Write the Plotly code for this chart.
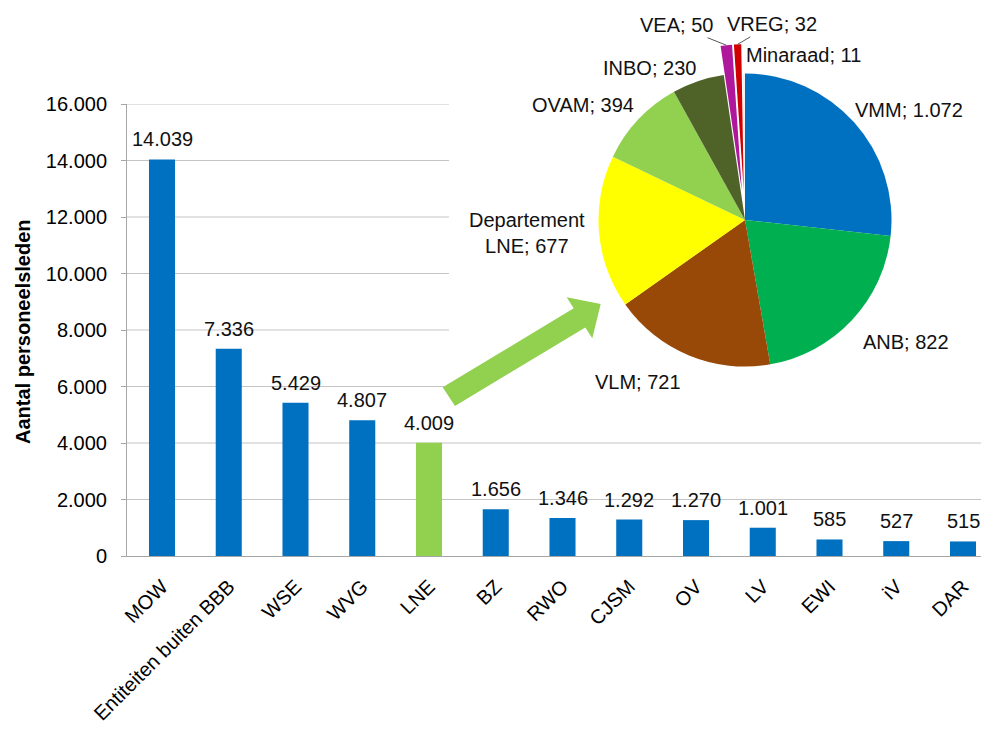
import math
import plotly.graph_objects as go

# ---------------- data ----------------
categories = ["MOW", "Entiteiten buiten BBB", "WSE", "WVG", "LNE", "BZ", "RWO",
              "CJSM", "OV", "LV", "EWI", "iV", "DAR"]
personnel = [14039, 7336, 5429, 4807, 4009, 1656, 1346, 1292, 1270, 1001, 585, 527, 515]
highlight_category = "LNE"

pie_labels = ["VMM", "ANB", "VLM", "Departement<br>LNE", "OVAM", "INBO", "VEA", "VREG", "Minaraad"]
pie_values = [1072, 822, 721, 677, 394, 230, 50, 32, 11]

y_ticks = [0, 2000, 4000, 6000, 8000, 10000, 12000, 14000, 16000]

# ---------------- style ----------------
W, H = 981, 730
FONT = "Liberation Sans, Arial, sans-serif"
BLUE = "#0070C0"
LGREEN = "#92D050"
GRID = "#C4C4C4"
pie_colors = ["#0070C0", "#00B050", "#984807", "#FFFF00", "#92D050", "#4F6228",
              "#B0189C", "#D00000", "#F2F2F2"]
pie_pull = [0, 0, 0, 0, 0, 0, 0.2, 0.2, 0]
# label placement style per slice: (xanchor, yanchor, radius factor) or arrow offsets
pie_label_style = [("left", "bottom", 0.99), ("left", "top", 1.09), ("right", "top", 1.10),
                   ("right", "middle", 1.08), ("right", "bottom", 1.02), ("right", "bottom", 1.0),
                   ("arrow", -50, -20), ("arrow", 34, -20), ("left", "bottom", 1.04)]

# plot area geometry (pixels)
PL, PR, PT, PB = 127, 981, 104, 556
CAT_STEP = 66.75
FIRST_CENTER = 162
PIE_CX, PIE_CY, PIE_R = 745, 220, 146.5
PIE_BOX_LEFT, PIE_BOX_BOTTOM = 449, 418   # white background of the embedded pie


def fmt(v):
    return f"{v:,}".replace(",", ".")


def px(x):
    return x / W


def py(y):
    return 1 - y / H


x_lo = -(FIRST_CENTER - PL) / CAT_STEP
x_hi = x_lo + (PR - PL) / CAT_STEP

fig = go.Figure()

bar_colors = [LGREEN if c == highlight_category else BLUE for c in categories]
fig.add_trace(go.Bar(x=categories, y=personnel, marker=dict(color=bar_colors, line=dict(width=0)),
                     width=0.39, hoverinfo="skip", showlegend=False))

max_pull = max(pie_pull)
half = PIE_R * (1 + max_pull)
fig.add_trace(go.Pie(labels=pie_labels, values=pie_values, sort=False, direction="clockwise",
                     rotation=0, pull=pie_pull, textinfo="none", hoverinfo="skip",
                     marker=dict(colors=pie_colors, line=dict(width=0)), showlegend=False,
                     domain=dict(x=[px(PIE_CX - half), px(PIE_CX + half)],
                                 y=[py(PIE_CY + half), py(PIE_CY - half)])))

annotations = []
# bar value labels
for c, v in zip(categories, personnel):
    annotations.append(dict(x=c, y=v, xref="x", yref="y", text=fmt(v), showarrow=False,
                            xanchor="center", yanchor="bottom", yshift=7,
                            font=dict(size=20, color="#111111", family=FONT)))

# pie labels from slice angles
total = sum(pie_values)
cum = 0
for lab, v, pull, st in zip(pie_labels, pie_values, pie_pull, pie_label_style):
    mid = (cum + v / 2) / total * 2 * math.pi
    cum += v
    s, c = math.sin(mid), math.cos(mid)
    text = f"{lab}; {fmt(v)}"
    if st[0] == "arrow":
        d = PIE_R * (1 + pull)
        annotations.append(dict(x=px(PIE_CX + d * s), y=py(PIE_CY - d * c), xref="paper", yref="paper",
                                text=text, showarrow=True, arrowhead=0, arrowwidth=1, arrowcolor="#595959",
                                ax=st[1], ay=st[2], font=dict(size=20, color="#111111", family=FONT)))
    else:
        d = PIE_R * (st[2] + pull)
        annotations.append(dict(x=px(PIE_CX + d * s), y=py(PIE_CY - d * c), xref="paper", yref="paper",
                                text=text, showarrow=False, xanchor=st[0], yanchor=st[1], align="center",
                                font=dict(size=20, color="#111111", family=FONT)))

# y-axis title
annotations.append(dict(x=px(23), y=py(332), xref="paper", yref="paper", text="<b>Aantal personeelsleden</b>",
                        textangle=-90, showarrow=False, xanchor="center", yanchor="middle",
                        font=dict(size=20, color="#000000", family=FONT)))

shapes = []
# horizontal gridlines; those behind the embedded pie chart box are cut at its left edge
for t in y_ticks[1:]:
    y_pix = PB - t / y_ticks[-1] * (PB - PT)
    x_end = PIE_BOX_LEFT if y_pix < PIE_BOX_BOTTOM else PR
    shapes.append(dict(type="line", xref="paper", yref="y", x0=px(PL), x1=px(x_end), y0=t, y1=t,
                       line=dict(color=GRID, width=1), layer="below"))

# green block arrow from LNE bar to the pie
arrow_pts = [(442.7, 387.3), (573.7, 308.3), (566.7, 297.3), (600.7, 304.0),
             (592.3, 338.3), (585.3, 327.4), (455.0, 406.0)]
path = "M " + " L ".join(f"{px(a):.5f},{py(b):.5f}" for a, b in arrow_pts) + " Z"
shapes.append(dict(type="path", xref="paper", yref="paper", path=path, fillcolor=LGREEN,
                   line=dict(width=0), layer="above"))

fig.update_layout(
    template="none",
    width=W, height=H,
    margin=dict(l=0, r=0, t=0, b=0, pad=0),
    paper_bgcolor="white", plot_bgcolor="rgba(0,0,0,0)",
    separators=",.",
    font=dict(family=FONT, size=20, color="#000000"),
    xaxis=dict(domain=[px(PL), px(PR)], range=[x_lo, x_hi], type="category", tickangle=-45,
               showline=True, linecolor="#A6A6A6", linewidth=1, ticks="", showgrid=False,
               tickfont=dict(size=20, color="#000000", family=FONT), automargin=False,
               ticklabelstandoff=10),
    yaxis=dict(domain=[py(PB), py(PT)], range=[0, 16000], tickvals=y_ticks,
               ticktext=[fmt(t) for t in y_ticks], showgrid=False,
               showline=True, linecolor="#A6A6A6", linewidth=1, ticks="outside", ticklen=5,
               tickcolor="#A6A6A6", zeroline=False, automargin=False, ticklabelstandoff=10,
               tickfont=dict(size=20, color="#000000", family=FONT)),
    annotations=annotations,
    shapes=shapes,
)

fig.write_html("out.html", config={"displayModeBar": False},
               post_script="document.body.style.margin='0';document.body.style.overflow='hidden';")
